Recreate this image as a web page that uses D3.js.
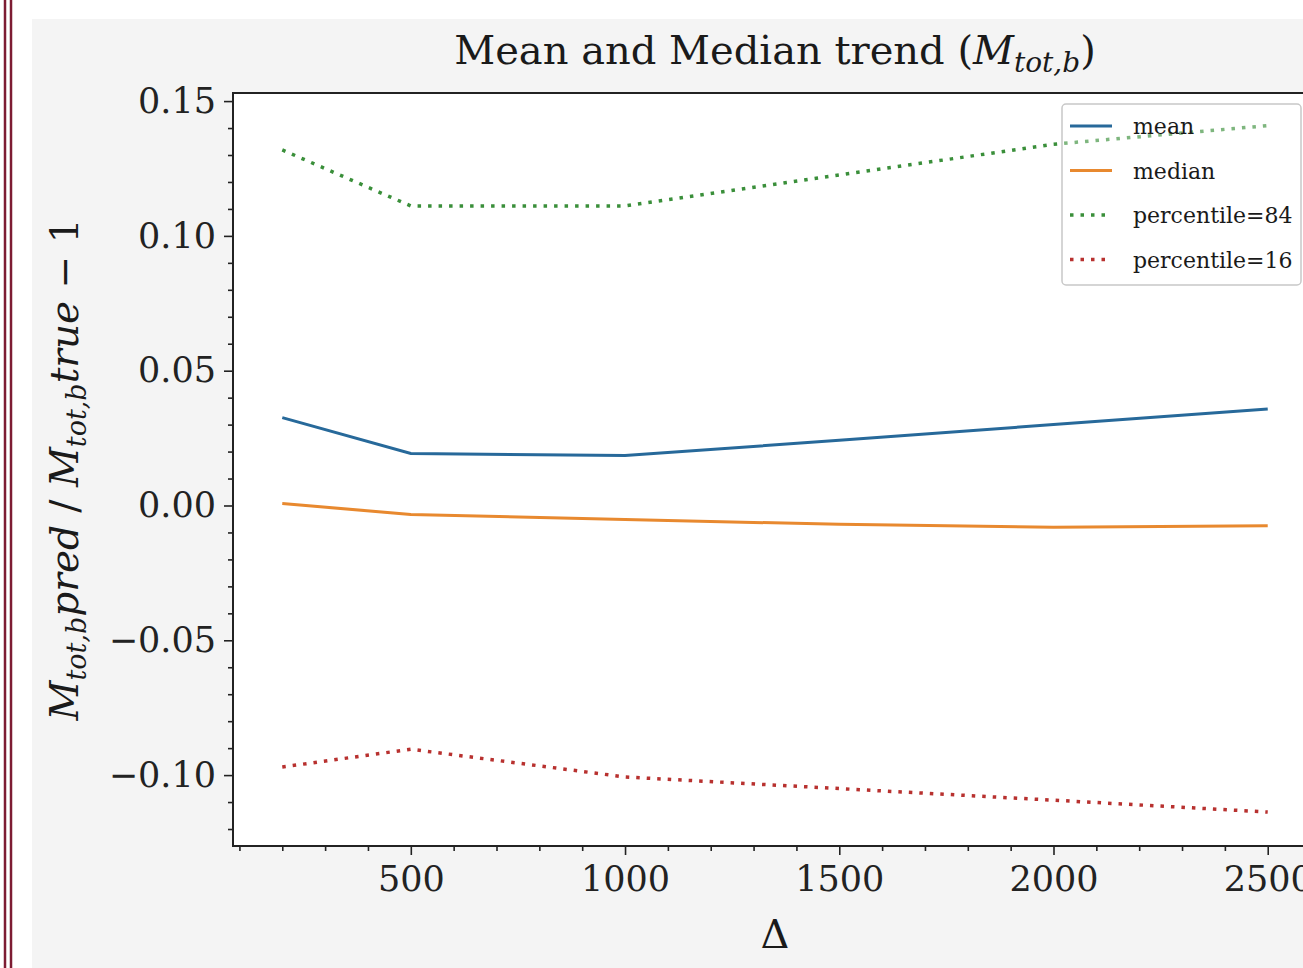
<!DOCTYPE html>
<html>
<head>
<meta charset="utf-8">
<script src="https://cdn.jsdelivr.net/npm/d3@7"></script>
<style>
  body { margin: 0; background: #fff; }
  svg { display: block; font-family: "DejaVu Serif", serif; }
</style>
</head>
<body>
<script>
// data
var deltas = [200, 500, 1000, 1500, 2000, 2500];
var meanVals = [0.0326, 0.0193, 0.0185, 0.0242, 0.0300, 0.0358];
var medianVals = [0.0007, -0.0033, -0.0052, -0.0070, -0.0081, -0.0075];
var p84Vals = [0.1319, 0.1111, 0.1111, 0.1226, 0.1340, 0.1409];
var p16Vals = [-0.0970, -0.0904, -0.1007, -0.1050, -0.1093, -0.1137];
var seriesNames = ["mean", "median", "percentile=84", "percentile=16"];
var xTicks = [500, 1000, 1500, 2000, 2500];
var yTicks = [-0.10, -0.05, 0.00, 0.05, 0.10, 0.15];

var W = 1303, H = 968;
var pLeft = 233, pTop = 93, pRight = 1317, pBottom = 846;

var colors = ["#27699a", "#e8892f", "#3a8f3a", "#b8312f"];
var dashed = [null, null, "3.5,7", "3.5,7"];
var allSeries = [meanVals, medianVals, p84Vals, p16Vals];

var svg = d3.select("body").append("svg")
    .attr("width", W)
    .attr("height", H);

// left decorative border and grey panel
svg.append("rect").attr("x", 32).attr("y", 19).attr("width", W - 32).attr("height", H - 19).attr("fill", "#f4f4f4");
[5, 11].forEach(function(x) {
  svg.append("line").attr("x1", x).attr("x2", x).attr("y1", 0).attr("y2", H)
    .attr("stroke", "#7d1c33").attr("stroke-width", 2.5);
});

var xScale = d3.scaleLinear().domain([85, 2615]).range([pLeft, pRight]);
var yScale = d3.scaleLinear().domain([-0.1263, 0.1530]).range([pBottom, pTop]);

// plot area
svg.append("rect").attr("x", pLeft).attr("y", pTop).attr("width", pRight - pLeft).attr("height", pBottom - pTop).attr("fill", "#fff");

var plot = svg.append("g");

var line = d3.line()
    .x(function(d, i) { return xScale(deltas[i]); })
    .y(function(d) { return yScale(d); });

allSeries.forEach(function(vals, k) {
  plot.append("path")
    .datum(vals)
    .attr("d", line)
    .attr("fill", "none")
    .attr("stroke", colors[k])
    .attr("stroke-width", k < 2 ? 3 : 3.5)
    .attr("stroke-dasharray", dashed[k]);
});

// axes
var xAxis = d3.axisBottom(xScale).tickValues(xTicks).tickSize(9).tickPadding(11).tickFormat(d3.format("d"));
var xMinor = d3.axisBottom(xScale).tickValues(d3.range(100, 2601, 100).filter(function(v) { return v % 500; })).tickSize(5).tickFormat("");
var yAxis = d3.axisLeft(yScale).tickValues(yTicks).tickSize(9).tickPadding(8).tickFormat(d3.format(".2f"));
var yMinor = d3.axisLeft(yScale).tickValues(d3.range(-12, 16).map(function(v) { return v / 100; }).filter(function(v) { return Math.round(v * 100) % 5; })).tickSize(5).tickFormat("");

function styleAxis(g) {
  g.select(".domain").remove();
  g.selectAll("line").attr("stroke", "#222").attr("stroke-width", 1.6);
  g.selectAll("text").attr("fill", "#222").attr("font-size", 35).attr("font-family", "DejaVu Serif, serif");
}

svg.append("g").attr("transform", "translate(0," + pBottom + ")").call(xAxis).call(styleAxis);
svg.append("g").attr("transform", "translate(0," + pBottom + ")").call(xMinor).call(styleAxis);
svg.append("g").attr("transform", "translate(" + pLeft + ",0)").call(yAxis).call(styleAxis);
svg.append("g").attr("transform", "translate(" + pLeft + ",0)").call(yMinor).call(styleAxis);

// spines
svg.append("path")
  .attr("d", "M" + pRight + "," + pTop + "H" + pLeft + "V" + pBottom + "H" + pRight)
  .attr("fill", "none").attr("stroke", "#222").attr("stroke-width", 2);

// title
var title = svg.append("text").attr("x", (pLeft + pRight) / 2).attr("y", 64)
  .attr("text-anchor", "middle").attr("font-size", 40).attr("fill", "#1a1a1a");
title.append("tspan").text("Mean and Median trend (");
title.append("tspan").attr("font-style", "italic").text("M");
title.append("tspan").attr("font-style", "italic").attr("font-size", 28).attr("dy", 8).text("tot,b");
title.append("tspan").attr("dy", -8).text(")");

// x label
svg.append("text").attr("x", (pLeft + pRight) / 2).attr("y", 948)
  .attr("text-anchor", "middle").attr("font-size", 40).attr("fill", "#1a1a1a").text("Δ");

// y label
var ylab = svg.append("text")
  .attr("transform", "translate(78," + ((pTop + pBottom) / 2) + ") rotate(-90)")
  .attr("text-anchor", "middle").attr("font-size", 39).attr("fill", "#1a1a1a");
ylab.append("tspan").attr("font-style", "italic").text("M");
ylab.append("tspan").attr("font-style", "italic").attr("font-size", 27).attr("dy", 8).text("tot,b");
ylab.append("tspan").attr("font-style", "italic").attr("dy", -8).text("pred");
ylab.append("tspan").text(" / ");
ylab.append("tspan").attr("font-style", "italic").text("M");
ylab.append("tspan").attr("font-style", "italic").attr("font-size", 27).attr("dy", 8).text("tot,b");
ylab.append("tspan").attr("font-style", "italic").attr("dy", -8).text("true");
ylab.append("tspan").text(" \u2212 1");

// legend
var leg = svg.append("g");
leg.append("rect").attr("x", 1062).attr("y", 104).attr("width", 239).attr("height", 181)
  .attr("rx", 4).attr("fill", "#fff").attr("fill-opacity", 0.35)
  .attr("stroke", "#c8c8c8").attr("stroke-width", 1.5);
var items = leg.selectAll(".item").data(seriesNames).enter().append("g")
  .attr("transform", function(d, i) { return "translate(1070," + (126 + i * 44.5) + ")"; });
items.append("line").attr("x1", 0).attr("x2", 42).attr("y1", 0).attr("y2", 0)
  .attr("stroke", function(d, i) { return colors[i]; })
  .attr("stroke-width", function(d, i) { return i < 2 ? 3 : 3.5; })
  .attr("stroke-dasharray", function(d, i) { return dashed[i]; });
items.append("text").attr("x", 63).attr("y", 8).attr("font-size", 22).attr("fill", "#1a1a1a")
  .text(function(d) { return d; });
</script>
</body>
</html>
